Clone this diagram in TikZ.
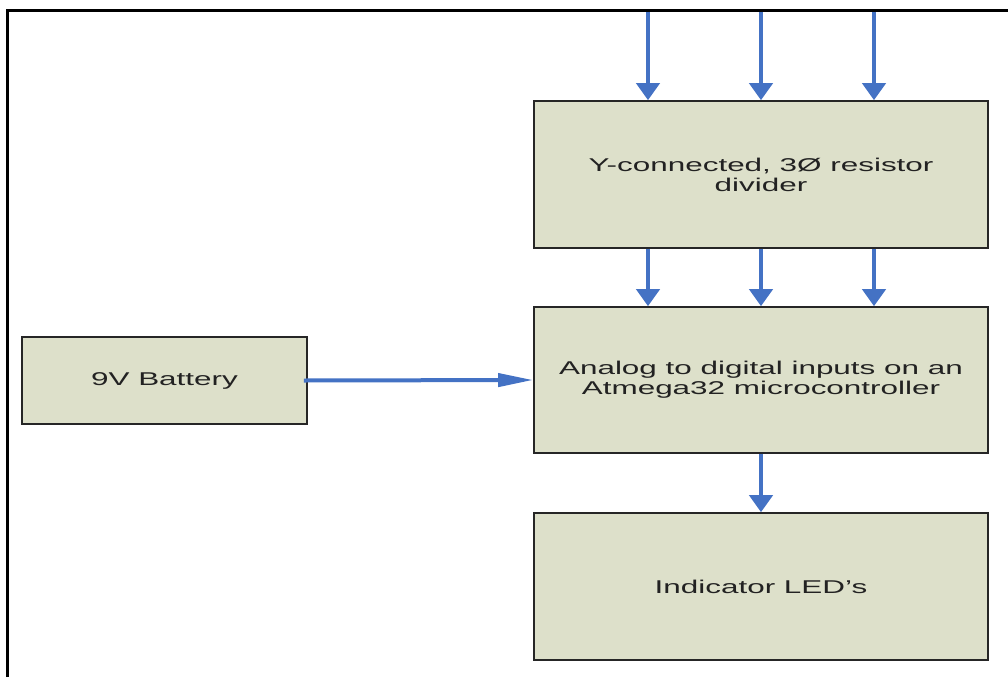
\documentclass[tikz,border=0pt]{standalone}
\usepackage{fontspec}
\newfontfamily\blockfont[FakeStretch=1.7]{Liberation Sans}
\usetikzlibrary{arrows.meta}
\definecolor{blockfill}{HTML}{DDE0CA}
\definecolor{flowblue}{HTML}{4472C4}
\definecolor{blocktext}{HTML}{222222}

\begin{document}
\begin{tikzpicture}[x=1pt, y=-1pt,
    block/.style={draw=black!85, line width=1.6pt, fill=blockfill,
        text=blocktext, align=center, inner sep=0pt,
        font=\blockfont\fontsize{18.5}{20}\selectfont},
    flow/.style={draw=flowblue, line width=4pt,
        -{Triangle[length=17pt, width=23pt]}},
    sideflow/.style={draw=flowblue, line width=4pt,
        -{Triangle[length=35pt, width=13pt]}}]

    \useasboundingbox (0,0) rectangle (1008,677);

    % Bingkai luar (hanya sisi kiri dan atas yang tampak)
    \draw[line width=3pt, black] (7.5,677) -- (7.5,11) -- (1008,11);

    % Blok-blok
    \node[block, minimum width=454pt, minimum height=147pt] (divider) at (761,174.5)
        {Y-connected, 3Ø resistor\\divider};
    \node[block, minimum width=454pt, minimum height=146pt] (analog) at (761,380)
        {Analog to digital inputs on an\\Atmega32 microcontroller};
    \node[block, minimum width=454pt, minimum height=147pt] (leds) at (761,586.5)
        {Indicator LED’s};
    \node[block, minimum width=285pt, minimum height=87pt] (battery) at (164.5,380.5)
        {9V Battery};

    % Masukan tiga fasa dari atas
    \coordinate (pa) at (648,12);
    \coordinate (pb) at (761,12);
    \coordinate (pc) at (874,12);

    % Panah
    \draw[flow] (pa) -- (pa |- divider.north);
    \draw[flow] (pb) -- (pb |- divider.north);
    \draw[flow] (pc) -- (pc |- divider.north);

    \draw[flow] (pa |- divider.south) -- (pa |- analog.north);
    \draw[flow] (pb |- divider.south) -- (pb |- analog.north);
    \draw[flow] (pc |- divider.south) -- (pc |- analog.north);

    \draw[flow] (analog) -- (leds);
    \draw[sideflow] ([xshift=-4pt]battery.east) -- (analog.west);

\end{tikzpicture}
\end{document}
